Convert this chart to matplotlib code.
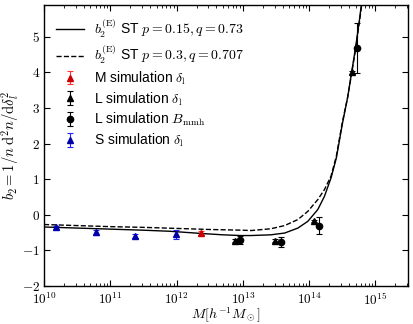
import numpy as np
import matplotlib
matplotlib.use("Agg")
import matplotlib.pyplot as plt
from matplotlib.ticker import FuncFormatter, LogLocator, NullFormatter

plt.rcParams['mathtext.fontset'] = 'cm'
plt.rcParams['font.family'] = ['Liberation Sans', 'DejaVu Sans']

# Curves (log10 M, b2)
st1_logm = [10.0, 10.5, 11.0, 11.5, 11.9, 12.36, 12.7, 12.97, 13.12, 13.42, 13.63, 13.83,
            13.98, 14.13, 14.23, 14.33, 14.41, 14.50, 14.58, 14.64, 14.70, 14.76, 14.80]
st1_b2 = [-0.34, -0.37, -0.40, -0.43, -0.46, -0.52, -0.56, -0.58, -0.58, -0.56, -0.51, -0.37,
          -0.18, 0.15, 0.52, 1.04, 1.60, 2.55, 3.30, 4.00, 4.70, 5.50, 6.10]
st2_logm = [10.0, 10.5, 11.0, 11.5, 12.0, 12.5, 13.0, 13.12, 13.42, 13.63, 13.83,
            13.98, 14.13, 14.23, 14.33, 14.41, 14.50, 14.58, 14.64, 14.70, 14.76, 14.80]
st2_b2 = [-0.27, -0.30, -0.33, -0.35, -0.38, -0.41, -0.43, -0.44, -0.39, -0.30, -0.13,
          0.10, 0.43, 0.71, 1.09, 1.65, 2.60, 3.30, 3.97, 4.65, 5.45, 6.00]

# Simulation points
m_mass = [2.36e12]
m_b2 = [-0.51]
m_err = [0.05]

l_dl_mass = [7.6e12, 3.0e13, 1.17e14, 4.4e14]
l_dl_b2 = [-0.72, -0.72, -0.18, 4.0]
l_dl_err = [0.03, 0.03, 0.03, 0.05]

l_bm_mass = [9.2e12, 3.7e13, 1.4e14, 5.3e14]
l_bm_b2 = [-0.70, -0.76, -0.30, 4.68]
l_bm_err = [0.12, 0.15, 0.25, 0.70]

s_mass = [1.5e10, 6.0e10, 2.4e11, 9.8e11]
s_b2 = [-0.35, -0.49, -0.60, -0.55]
s_err = [0.04, 0.07, 0.05, 0.12]

fig = plt.figure(figsize=(4.13, 3.24), dpi=100)
ax = fig.add_axes([0.1065, 0.117, 0.8815, 0.868])

ax.plot(10**np.array(st1_logm), st1_b2, 'k-', lw=1.0,
        label=r'$b_2^{(\mathrm{E})}$ ST $p=0.15, q=0.73$')
ax.plot(10**np.array(st2_logm), st2_b2, 'k--', lw=1.0,
        label=r'$b_2^{(\mathrm{E})}$ ST $p=0.3, q=0.707$')
ax.errorbar(m_mass, m_b2, yerr=m_err, fmt='^', color='#cc0000', mec='#cc0000',
            ms=4, capsize=2.5, elinewidth=0.8, capthick=0.8, ecolor='#ff3333',
            label=r'M simulation $\delta_\mathrm{l}$')
ax.errorbar(l_dl_mass, l_dl_b2, yerr=l_dl_err, fmt='^', color='k', ms=4, capsize=2.5,
            elinewidth=0.8, capthick=0.8, label=r'L simulation $\delta_\mathrm{l}$')
ax.errorbar(l_bm_mass, l_bm_b2, yerr=l_bm_err, fmt='o', color='k', ms=4.5, capsize=2.5,
            elinewidth=0.8, capthick=0.8, label=r'L simulation $B_\mathrm{mmh}$')
ax.errorbar(s_mass, s_b2, yerr=s_err, fmt='^', color='#0000aa', mec='#0000aa',
            ms=4, capsize=2.5, elinewidth=0.8, capthick=0.8, ecolor='#2222ff',
            label=r'S simulation $\delta_\mathrm{l}$')

ax.set_xscale('log')
ax.set_xlim(1e10, 3.1e15)
ax.set_ylim(-2, 5.9)
ax.set_yticks([-2, -1, 0, 1, 2, 3, 4, 5])
ax.yaxis.set_major_formatter(FuncFormatter(lambda v, p: r'$%d$' % v))
ax.xaxis.set_major_locator(LogLocator(base=10, numticks=10))
ax.xaxis.set_major_formatter(FuncFormatter(lambda v, p: r'$10^{%d}$' % round(np.log10(v))))
ax.xaxis.set_minor_locator(LogLocator(base=10, subs=np.arange(2, 10), numticks=20))
ax.xaxis.set_minor_formatter(NullFormatter())
ax.tick_params(which='both', direction='in', top=True, right=True, labelsize=9.5)
ax.tick_params(axis='y', which='major', length=4, pad=3)
ax.tick_params(axis='x', which='major', length=4, pad=4)
ax.tick_params(which='minor', length=2)
for s in ax.spines.values():
    s.set_linewidth(1.0)

ax.set_xlabel(r'$M[h^{-1}M_\odot]$', fontsize=10, labelpad=-1)
ax.set_ylabel(r'$b_2=1/n\;\mathrm{d}^2n/\mathrm{d}\delta_l^2$', fontsize=10.5, labelpad=0)

ax.legend(loc='upper left', frameon=False, fontsize=10, handlelength=2.0,
          borderaxespad=0.5, labelspacing=0.25, numpoints=1, handletextpad=0.7)

fig.savefig('out.png', dpi=100)
